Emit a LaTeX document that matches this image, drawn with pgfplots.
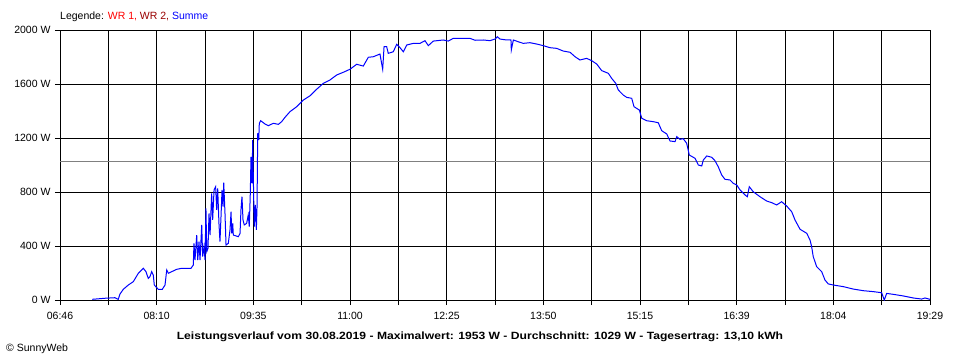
\documentclass[border=0pt]{standalone}
\usepackage{pgfplots}
\pgfplotsset{compat=1.18}
\usepackage{fontspec}
\setmainfont{Liberation Sans}
\definecolor{wrone}{RGB}{255,0,0}
\definecolor{wrtwo}{RGB}{153,0,0}
\definecolor{summe}{RGB}{0,0,255}
\definecolor{avg}{RGB}{128,128,128}
\begin{document}
\begin{tikzpicture}[x=1pt,y=1pt]
\fill[white] (0,0) rectangle (960,360);
\path[use as bounding box] (0,0) rectangle (960,360);
\begin{axis}[
  at={(60pt,60pt)}, anchor=south west,
  scale only axis, width=870pt, height=270pt,
  xmin=406, xmax=1169, ymin=0, ymax=2000,
  xtick={406,448.389,490.778,533.167,575.556,617.944,660.333,702.722,745.111,787.5,829.889,872.278,914.667,957.056,999.444,1041.833,1084.222,1126.611,1169},
  xticklabels={06:46,,08:10,,09:35,,11:00,,12:25,,13:50,,15:15,,16:39,,18:04,,19:29},
  ytick={0,400,800,1200,1600,2000},
  yticklabels={0 W,400 W,800 W,1200 W,1600 W,2000 W},
  xtick pos=bottom, ytick pos=left,
  tick align=outside, major tick length=5pt,
  tick style={black, line width=1pt},
  grid=major, grid style={black, line width=1pt},
  axis line style={black, line width=1pt},
  ticklabel style={font=\fontsize{10.5}{12}\selectfont},
  xticklabel style={yshift=-4pt},
  yticklabel style={xshift=-1pt},
]
\addplot[avg, line width=1pt] coordinates {(406,1029) (1169,1029)};
\addplot[summe, line width=1pt] coordinates {
(434.3,5) (445.5,13) (454.2,17) (457.1,5) (458.6,44) (461.5,79) (465.9,111) (470.3,136) (474.7,198) (479.1,235)
(481.4,210) (483.4,160) (484.9,173) (486.4,210) (487.8,185) (488.7,111) (492.2,79) (495.7,79) (498.1,111) (499.6,222)
(501.0,198) (504.0,210) (508.3,227) (512.7,235) (520.9,235) (522.9,259)
(523.5,420) (524.4,296) (525.9,481) (526.8,296) (527.9,432) (528.8,296) (530.3,556) (531.1,321) (532.3,395) (533.2,296)
(534.0,679) (534.7,358) (535.8,383) (536.7,642) (537.6,481) (539.0,790) (539.9,593) (541.1,815) (542.5,839) (543.4,667)
(544.3,827) (545.4,568) (546.3,432) (547.2,617) (548.1,815) (549.0,691) (549.6,869) (550.7,642) (551.6,407) (553.6,420)
(555.1,519) (556.0,654) (556.6,494) (557.5,568) (558.0,481) (562.4,469) (563.9,494) (564.7,667) (565.6,765) (566.5,593)
(567.6,556) (569.7,568) (571.1,630) (572.0,543) (572.9,790) (573.5,1061) (574.4,864) (575.0,1185) (575.9,741) (576.4,543)
(577.3,704) (578.2,519) (578.8,691) (579.4,1235) (580.3,1185) (580.8,1309) (582.0,1328) (585.8,1304) (588.7,1291) (593.1,1309)
(597.5,1301) (600.4,1321) (603.3,1353) (607.7,1395) (613.6,1432) (619.4,1481) (625.3,1513) (631.1,1561) (636.9,1605) (642.8,1630)
(648.7,1667) (654.5,1687) (660.3,1709) (666.2,1746) (672.0,1733) (676.4,1798) (680.8,1802) (686.6,1822) (689.0,1709) (690.2,1876)
(692.5,1876) (693.9,1827) (698.3,1839) (701.3,1894) (704.2,1869) (707.1,1839) (710.1,1889) (715.9,1901) (721.7,1901) (726.1,1921)
(729.0,1884) (733.4,1918) (742.2,1926) (746.5,1918) (750.9,1938) (759.7,1938) (765.6,1938) (770.0,1924) (777.2,1926) (783.1,1921)
(787.5,1933) (789.5,1950) (791.9,1933) (797.8,1926) (801.5,1926) (801.8,1852) (803.6,1926) (807.9,1913) (812.3,1901) (818.2,1906)
(824.1,1896) (829.9,1884) (835.7,1869) (841.6,1864) (847.4,1844) (853.3,1835) (857.7,1802) (862.0,1778) (867.9,1790) (872.3,1773)
(876.7,1748) (881.1,1699) (886.9,1679) (889.8,1642) (893.4,1605) (895.6,1556) (900.0,1518) (903.0,1501) (907.4,1494) (909.4,1432)
(914.1,1407) (916.2,1346) (920.5,1328) (926.3,1321) (930.7,1313) (933.7,1254) (938.1,1230) (941.0,1178) (945.4,1173) (946.9,1210)
(949.7,1190) (952.6,1195) (955.6,1161) (957.9,1074) (962.9,1050) (965.8,1000) (968.8,993) (970.2,1037) (973.2,1067) (977.6,1057)
(980.4,1032) (983.3,987) (986.3,926) (989.2,894) (993.6,889) (996.5,864) (999.5,852) (1002.4,815) (1006.8,778) (1008.8,765)
(1010.5,839) (1014.0,802) (1019.9,765) (1025.8,733) (1030.2,721) (1034.5,704) (1038.9,728) (1043.3,696) (1047.7,654) (1050.6,593)
(1055.0,524) (1060.9,494) (1063.8,444) (1065.2,395) (1066.6,321) (1069.6,247) (1074.0,210) (1076.9,148) (1079.8,119) (1084.2,111)
(1093.0,99) (1101.7,81) (1110.5,69) (1119.3,62) (1126.6,54) (1128.9,0) (1131.0,49) (1136.8,42) (1145.6,30) (1154.4,15)
(1161.7,7) (1164.6,15) (1169,5)
};
\end{axis}
\node[anchor=west, inner sep=0pt, font=\fontsize{10.5}{12}\selectfont] at (60,343.3)
  {Legende: \textcolor{wrone}{WR 1,} \textcolor{wrtwo}{WR 2,} \textcolor{summe}{Summe}};
\node[inner sep=0pt, font=\bfseries\fontsize{10.5}{12}\selectfont] at (480,23.3)
  {\scalebox{1.155}[1]{Leistungsverlauf vom 30.08.2019 - Maximalwert: 1953 W - Durchschnitt: 1029 W - Tagesertrag: 13,10 kWh}};
\node[anchor=west, inner sep=0pt, font=\fontsize{10.5}{12}\selectfont] at (6,11)
  {\textcopyright{} SunnyWeb};
\end{tikzpicture}
\end{document}
